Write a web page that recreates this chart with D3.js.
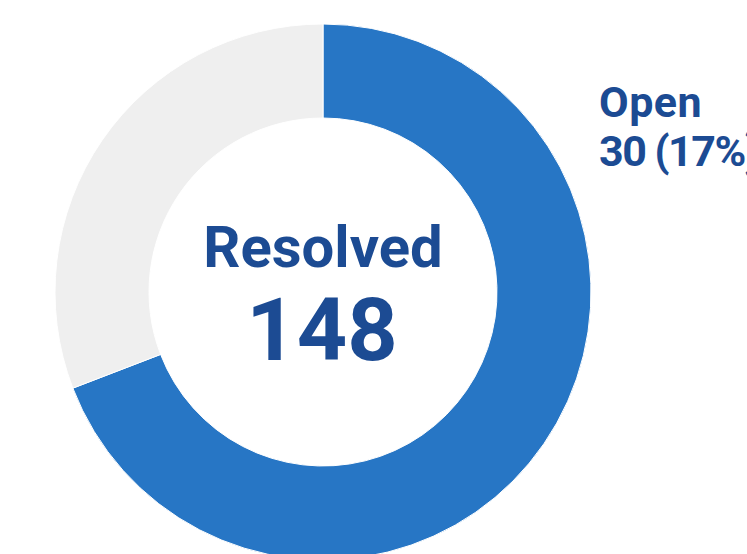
<!DOCTYPE html>
<html><head><meta charset="utf-8">
<script src="https://cdn.jsdelivr.net/npm/d3@7"></script>
<style>html,body{margin:0;padding:0;background:#fff;overflow:hidden}</style>
</head><body>
<svg id="c" width="747" height="554"></svg>
<script>
const categories = ["Resolved", "Open"];
const sliceValues = [148, 66];
const sliceColors = ["#2776c5", "#efefef"];
const centerLabel = "Resolved";
const centerValue = "148";
const sideLabel = "Open";
const sideValue = "30 (17%)";

const svg = d3.select("#c");
const cx = 323, cy = 292, rOut = 268, rIn = 174;
const g = svg.append("g").attr("transform", `translate(${cx},${cy})`);
const pie = d3.pie().sort(null).value(d => d)(sliceValues);
const arc = d3.arc().innerRadius(rIn).outerRadius(rOut);
g.selectAll("path").data(pie).join("path")
  .attr("d", arc)
  .attr("fill", (d, i) => sliceColors[i])
  .attr("stroke", "#fff").attr("stroke-width", 1);

const font = "Roboto, 'Liberation Sans', sans-serif";
const dark = "#1c4b93";
svg.append("text").attr("x", cx).attr("y", 267).attr("text-anchor", "middle")
  .attr("font-family", font).attr("font-weight", 700).attr("font-size", 58)
  .attr("fill", dark).text(centerLabel);
svg.append("text").attr("x", cx - 1).attr("y", 360).attr("text-anchor", "middle")
  .attr("font-family", font).attr("font-weight", 700).attr("font-size", 88)
  .attr("fill", dark).text(centerValue);
svg.append("text").attr("x", 599).attr("y", 117)
  .attr("font-family", font).attr("font-weight", 700).attr("font-size", 43)
  .attr("letter-spacing", 0.5)
  .attr("fill", dark).text(sideLabel);
svg.append("text").attr("x", 599).attr("y", 166)
  .attr("font-family", font).attr("font-weight", 700).attr("font-size", 43)
  .attr("letter-spacing", -1.5)
  .attr("fill", dark).text(sideValue);
</script>
</body></html>
